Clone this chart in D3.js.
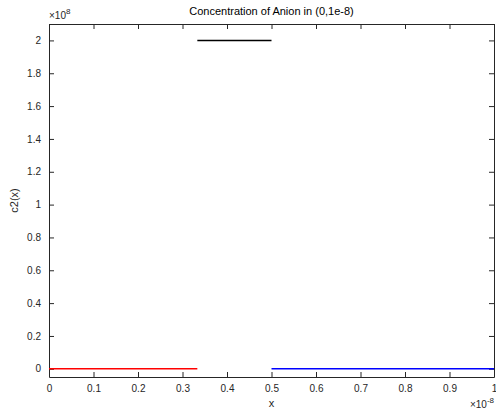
<!DOCTYPE html>
<html><head><meta charset="utf-8">
<script src="https://cdn.jsdelivr.net/npm/d3@7"></script>
<style>body{margin:0;background:#fff;} text{font-family:"Liberation Sans",Arial,sans-serif;fill:#262626;}</style>
</head><body>
<svg id="c" width="496" height="411"></svg>
<script>
// data (x in units of 1e-8, y in units of 1e8)
const segRed   = [[0, 0], [1/3, 0]];
const segBlack = [[1/3, 2], [0.5, 2]];
const segBlue  = [[0.5, 0], [1, 0]];
const xTicks = [0,0.1,0.2,0.3,0.4,0.5,0.6,0.7,0.8,0.9,1];
const yTicks = [0,0.2,0.4,0.6,0.8,1,1.2,1.4,1.6,1.8,2];
const xDomain = [0, 1];
const yDomain = [-0.05, 2.1];

const svg = d3.select("#c");
const L = 49, R = 494, T = 24, B = 377;
const x = d3.scaleLinear().domain(xDomain).range([L, R]);
const y = d3.scaleLinear().domain(yDomain).range([B, T]);
const fmt = d => d3.format("~g")(d);
const axCol = "#262626";

// axes
const gx = svg.append("g").attr("transform", `translate(0,${B})`)
  .call(d3.axisBottom(x).tickValues(xTicks).tickFormat(fmt).tickSizeInner(-5).tickSizeOuter(0).tickPadding(8));
const gxt = svg.append("g").attr("transform", `translate(0,${T})`)
  .call(d3.axisTop(x).tickValues(xTicks).tickFormat("").tickSizeInner(-5).tickSizeOuter(0));
const gy = svg.append("g").attr("transform", `translate(${L},0)`)
  .call(d3.axisLeft(y).tickValues(yTicks).tickFormat(fmt).tickSizeInner(-5).tickSizeOuter(0).tickPadding(8));
const gyr = svg.append("g").attr("transform", `translate(${R},0)`)
  .call(d3.axisRight(y).tickValues(yTicks).tickFormat("").tickSizeInner(-5).tickSizeOuter(0));
[gx,gxt,gy,gyr].forEach(g=>{
  g.selectAll("path").attr("stroke", axCol).attr("stroke-width",1);
  g.selectAll("line").attr("stroke", axCol).attr("stroke-width",1);
  g.selectAll("text").attr("font-size", 10).attr("fill", axCol).attr("font-family","Liberation Sans, Arial, sans-serif");
});

// lines
const line = d3.line().x(d => x(d[0])).y(d => y(d[1]));
[[segRed,"#ff0000"],[segBlack,"#000000"],[segBlue,"#0000ff"]].forEach(([d,c])=>{
  svg.append("path").attr("d", line(d)).attr("fill","none").attr("stroke",c).attr("stroke-width",1.5);
});

// title & labels
svg.append("text").attr("x", (L+R)/2).attr("y", 15).attr("text-anchor","middle")
  .attr("font-size", 11).style("fill","#000").text("Concentration of Anion in (0,1e-8)");
svg.append("text").attr("x", (L+R)/2).attr("y", 407).attr("text-anchor","middle")
  .attr("font-size", 11).text("x");
svg.append("text").attr("transform", `translate(18,${(T+B)/2}) rotate(-90)`).attr("text-anchor","middle")
  .attr("font-size", 11).text("c2(x)");

// exponent labels
const e1 = svg.append("text").attr("x", 49).attr("y", 19).attr("font-size", 10);
e1.append("tspan").text("\u00d710");
e1.append("tspan").attr("dy", -5).attr("font-size", 8).text("8");
const e2 = svg.append("text").attr("x", 494).attr("y", 408).attr("font-size", 10).attr("text-anchor","end");
e2.append("tspan").text("\u00d710");
e2.append("tspan").attr("dy", -5).attr("font-size", 8).text("-8");
</script>
</body></html>
